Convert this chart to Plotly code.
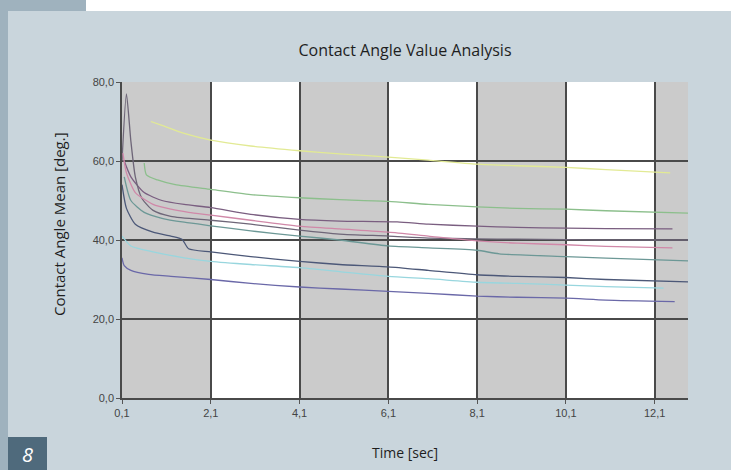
import plotly.graph_objects as go

# ---------------- data ----------------
x_ticks = [0.1, 2.1, 4.1, 6.1, 8.1, 10.1, 12.1]
x_tick_labels = ["0,1", "2,1", "4,1", "6,1", "8,1", "10,1", "12,1"]
y_ticks = [0, 20, 40, 60, 80]
y_tick_labels = ["0,0", "20,0", "40,0", "60,0", "80,0"]

a_x = [0.75, 1.0, 1.5, 2.1, 3.0, 4.1, 5.0, 6.1, 7.0, 8.1, 9.0, 10.1, 11.0, 12.45]
a_y = [70.0, 69.0, 67.0, 65.3, 63.8, 62.6, 61.8, 61.0, 60.2, 59.2, 58.8, 58.4, 57.8, 57.0]

b_x = [0.6, 0.65, 0.9, 1.3, 2.1, 3.0, 4.1, 5.0, 6.1, 7.0, 8.1, 9.0, 10.1, 11.0, 12.85]
b_y = [59.5, 56.5, 55.2, 54.0, 52.8, 51.5, 50.7, 50.2, 49.8, 49.0, 48.4, 48.0, 47.8, 47.4, 46.8]

c_x = [0.15, 0.3, 0.6, 1.0, 1.5, 2.1, 3.0, 4.1, 5.0, 6.3, 7.0, 8.1, 9.0, 10.1, 11.0, 12.5]
c_y = [60.0, 56.0, 52.0, 50.0, 49.0, 48.2, 46.5, 45.2, 44.8, 44.6, 44.0, 43.5, 43.2, 43.0, 42.9, 42.8]

d_x = [0.1, 0.2, 0.3, 0.4, 0.55, 0.8, 1.2, 2.1, 3.0, 4.1, 5.0, 6.1, 7.0, 8.1, 9.0, 10.1, 11.0, 12.85]
d_y = [60.0, 77.0, 65.0, 56.0, 50.5, 47.5, 46.0, 45.0, 44.0, 42.5, 41.5, 41.0, 40.5, 40.3, 40.2, 40.1, 40.0, 40.0]

e_x = [0.12, 0.2, 0.4, 0.8, 1.2, 1.6, 2.1, 3.0, 4.1, 5.0, 6.1, 7.0, 8.1, 9.0, 10.1, 11.0, 12.5]
e_y = [62.0, 57.0, 52.0, 49.0, 47.8, 47.0, 46.3, 45.0, 43.5, 42.8, 42.0, 41.0, 39.8, 39.2, 38.8, 38.4, 38.0]

f_x = [0.15, 0.3, 0.6, 1.0, 1.5, 2.1, 3.0, 4.1, 5.0, 6.1, 7.0, 8.1, 8.6, 10.1, 11.0, 12.85]
f_y = [56.0, 50.0, 47.0, 45.5, 44.5, 43.6, 42.3, 41.0, 40.0, 38.5, 38.0, 37.4, 36.5, 35.8, 35.4, 34.7]

g_x = [0.1, 0.2, 0.4, 0.8, 1.2, 1.45, 1.6, 2.1, 3.0, 4.1, 5.0, 6.1, 7.0, 8.1, 9.0, 10.1, 11.0, 12.85]
g_y = [54.0, 48.0, 44.0, 42.0, 41.0, 40.2, 37.8, 37.0, 35.8, 34.6, 33.8, 33.2, 32.3, 31.2, 30.8, 30.5, 30.0, 29.4]

h_x = [0.1, 0.3, 0.8, 1.5, 2.1, 3.0, 4.1, 5.0, 6.1, 7.0, 8.1, 9.0, 10.1, 11.0, 12.3]
h_y = [41.0, 38.5, 37.0, 35.5, 34.6, 33.8, 33.0, 32.0, 30.8, 30.2, 29.3, 29.0, 28.6, 28.2, 27.8]

i_x = [0.1, 0.15, 0.3, 0.7, 1.2, 2.1, 3.0, 4.1, 5.0, 6.1, 7.0, 8.1, 9.0, 10.1, 11.0, 12.55]
i_y = [35.5, 33.5, 32.3, 31.3, 30.8, 30.0, 29.0, 28.1, 27.6, 27.0, 26.5, 25.8, 25.5, 25.3, 24.8, 24.4]

series = [
    (a_x, a_y, "#e2ea94"),
    (b_x, b_y, "#8cbf8c"),
    (c_x, c_y, "#7a5e80"),
    (d_x, d_y, "#6e6678"),
    (e_x, e_y, "#d088a8"),
    (f_x, f_y, "#6c9896"),
    (g_x, g_y, "#4c5878"),
    (h_x, h_y, "#98d6de"),
    (i_x, i_y, "#6a68a8"),
]

X_MAX = 12.85
W, H = 731, 470
ML, MR, MT, MB = 122, 43, 82, 72

fig = go.Figure()
for xs, ys, col in series:
    fig.add_trace(go.Scatter(x=xs, y=ys, mode="lines",
                             line=dict(color=col, width=1.3, shape="spline", smoothing=0.6),
                             showlegend=False, hoverinfo="skip"))

# alternating grey / white column bands, bounded by the x ticks
edges = x_ticks + [X_MAX]
shapes = []
for k in range(0, len(edges) - 1, 2):
    shapes.append(dict(type="rect", xref="x", yref="y", x0=edges[k], x1=edges[k + 1],
                       y0=0, y1=80, fillcolor="#cbcbcb", line=dict(width=0), layer="below"))

pw = W - ML - MR
ph = H - MT - MB
def px(v):
    return (v - ML) / pw
def py(v):
    return (H - MB - v) / ph

# page decoration
shapes += [
    dict(type="rect", xref="paper", yref="paper", x0=px(-2), x1=px(8), y0=py(H + 2), y1=py(-2),
         fillcolor="#9fb2be", line=dict(width=0), layer="below"),
    dict(type="rect", xref="paper", yref="paper", x0=px(-2), x1=px(86), y0=py(11), y1=py(-2),
         fillcolor="#9fb2be", line=dict(width=0), layer="below"),
    dict(type="rect", xref="paper", yref="paper", x0=px(86), x1=px(W + 2), y0=py(11), y1=py(-2),
         fillcolor="#ffffff", line=dict(width=0), layer="below"),
    dict(type="rect", xref="paper", yref="paper", x0=px(8), x1=px(47), y0=py(H + 2), y1=py(437),
         fillcolor="#4f6a7c", line=dict(width=0), layer="below"),
]

fig.update_layout(
    width=W, height=H,
    margin=dict(l=ML, r=MR, t=MT, b=MB, autoexpand=False),
    paper_bgcolor="#c9d5dc",
    plot_bgcolor="#ffffff",
    font=dict(family="Open Sans, sans-serif", color="#222222"),
    shapes=shapes,
    title=dict(text="Contact Angle Value Analysis", x=0.5, xref="paper", xanchor="center",
               y=1 - 50 / H, yanchor="middle", font=dict(size=16, color="#1e1e1e")),
    annotations=[
        dict(text="<i>8</i>", xref="paper", yref="paper", x=px(27), y=py(454), showarrow=False,
             font=dict(size=20, color="#ffffff", family="Open Sans, sans-serif"),
             xanchor="center", yanchor="middle"),
        dict(text="Time [sec]", xref="paper", yref="paper", x=px(405), y=py(452), showarrow=False,
             font=dict(size=14, color="#1e1e1e"), xanchor="center", yanchor="middle"),
        dict(text="Contact Angle Mean [deg.]", xref="paper", yref="paper", x=px(59), y=py(224),
             showarrow=False, textangle=-90,
             font=dict(size=15, color="#1e1e1e"), xanchor="center", yanchor="middle"),
    ],
)

tick_font = dict(size=11, color="#444444", family="Liberation Sans, Arial")
fig.update_xaxes(
    range=[0.1, X_MAX], tickvals=x_ticks, ticktext=x_tick_labels, automargin=False,
    showgrid=True, gridcolor="#4a4a4a", gridwidth=1.5, zeroline=False,
    showline=True, linecolor="#4a4a4a", linewidth=1.5,
    ticks="outside", ticklen=4, tickcolor="#555555", tickfont=tick_font,
)
fig.update_yaxes(
    range=[0, 80], tickvals=y_ticks, ticktext=y_tick_labels, automargin=False,
    showgrid=True, gridcolor="#4a4a4a", gridwidth=1.5, zeroline=False,
    showline=True, linecolor="#4a4a4a", linewidth=1.5,
    ticks="outside", ticklen=4, tickcolor="#555555", tickfont=tick_font,
)

fig.write_html("out.html", config={"displayModeBar": False},
               post_script="document.body.style.margin='0';document.body.style.overflow='hidden';")
